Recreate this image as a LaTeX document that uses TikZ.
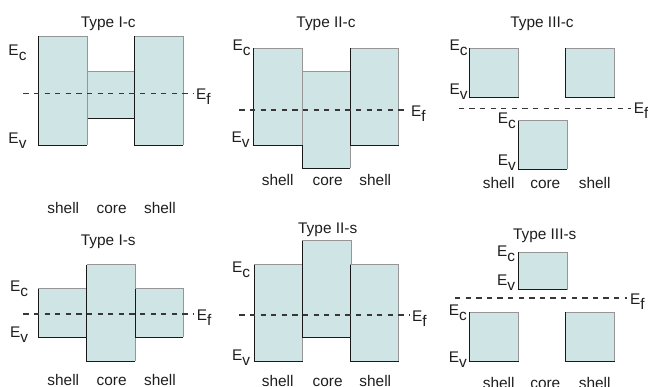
\documentclass[tikz,border=0pt]{standalone}
\usepackage{fontspec}
\setmainfont{Liberation Sans}
\definecolor{bandfill}{RGB}{207,228,229}
\definecolor{edgegray}{RGB}{150,150,150}
\definecolor{edgedark}{RGB}{25,25,25}
\definecolor{fermicol}{RGB}{55,55,55}
\definecolor{txt}{RGB}{30,30,30}
\newcommand{\sbx}[1]{\raisebox{-0.33em}{#1}}
\newcommand{\bandbox}[4]{%
  \fill[bandfill] (#1,#2) rectangle (#3,#4);
  \draw[edgegray, line width=0.8pt] (#1,#2) -- (#3,#2) -- (#3,#4);
  \draw[edgedark, line width=0.8pt] (#1,#2) -- (#1,#4) -- (#3,#4);}
\tikzset{
  lab/.style={inner sep=0pt, text=txt, font=\fontsize{15.4}{18}\selectfont},
  fermi/.style={fermicol, line width=1.4pt, dash pattern=on 5.3pt off 5.3pt, shorten >=3pt}
}
\begin{document}
\begin{tikzpicture}[x=1pt,y=-1pt]
\useasboundingbox (0,0) rectangle (648,386);
% ---------- Panel 1: Type I-c
\bandbox{87.3}{71.7}{134.3}{118.3}
\bandbox{38.3}{36}{87.3}{145}
\bandbox{134.3}{36}{183.3}{145}
\node[lab, anchor=base] (t1) at (108.3,27.3) {Type I-c};
\node[lab, anchor=base west] (c1) at (8.3,55) {E\sbx{c}};
\node[lab, anchor=base west] (v1) at (8.3,143) {E\sbx{v}};
\node[lab, anchor=base west] (f1) at (196,99.3) {E\sbx{f}};
\coordinate (d1) at (23.3,93.5);
\draw[fermi] (d1) -- (d1 -| f1.west);
\node[lab, anchor=base] (s1a) at (63.3,213.3) {shell};
\node[lab, anchor=base] (k1) at (111.7,213.3) {core};
\node[lab, anchor=base] (s1b) at (160,213.3) {shell};
% ---------- Panel 2: Type II-c
\bandbox{302.7}{71.7}{350}{168.3}
\bandbox{253.3}{48.3}{302.7}{145}
\bandbox{350}{48.3}{398.7}{145}
\node[lab, anchor=base] (t2) at (326,27.3) {Type II-c};
\node[lab, anchor=base west] (c2) at (232.3,50.7) {E\sbx{c}};
\node[lab, anchor=base west] (v2) at (231.5,142.7) {E\sbx{v}};
\node[lab, anchor=base west] (f2) at (411,116) {E\sbx{f}};
\coordinate (d2) at (239.3,110);
\draw[fermi] (d2) -- (d2 -| f2.west);
\node[lab, anchor=base] (s2a) at (277.7,185.3) {shell};
\node[lab, anchor=base] (k2) at (327.7,185.3) {core};
\node[lab, anchor=base] (s2b) at (375.3,185.3) {shell};
% ---------- Panel 3: Type III-c
\bandbox{469.3}{48.3}{518.7}{97.7}
\bandbox{565.3}{48.3}{614.7}{97.7}
\bandbox{518.3}{120.7}{567}{169.3}
\node[lab, anchor=base] (t3) at (542,27.3) {Type III-c};
\node[lab, anchor=base west] (c3) at (449.3,50) {E\sbx{c}};
\node[lab, anchor=base west] (v3) at (449.3,94) {E\sbx{v}};
\node[lab, anchor=base west] (c3k) at (497.7,123.3) {E\sbx{c}};
\node[lab, anchor=base west] (v3k) at (497.7,165) {E\sbx{v}};
\node[lab, anchor=base west] (f3) at (633.7,113.3) {E\sbx{f}};
\coordinate (d3) at (458.7,108.7);
\draw[fermi] (d3) -- (d3 -| f3.west);
\node[lab, anchor=base] (s3a) at (498.7,188.3) {shell};
\node[lab, anchor=base] (k3) at (545.3,188.3) {core};
\node[lab, anchor=base] (s3b) at (594.7,188.3) {shell};
% ---------- Panel 4: Type I-s
\bandbox{38.3}{288.7}{86.7}{337.3}
\bandbox{86.7}{264.7}{135}{361.3}
\bandbox{135}{288.7}{183.3}{337.3}
\node[lab, anchor=base] (t4) at (108.3,245.7) {Type I-s};
\node[lab, anchor=base west] (c4) at (10,291.3) {E\sbx{c}};
\node[lab, anchor=base west] (v4) at (10,337.3) {E\sbx{v}};
\node[lab, anchor=base west] (f4) at (196.7,320.7) {E\sbx{f}};
\coordinate (d4) at (23.3,314);
\draw[fermi] (d4) -- (d4 -| f4.west);
\node[lab, anchor=base] (s4a) at (63.3,385) {shell};
\node[lab, anchor=base] (k4) at (111.7,385) {core};
\node[lab, anchor=base] (s4b) at (160,385) {shell};
% ---------- Panel 5: Type II-s
\bandbox{254.3}{264.7}{302.7}{361.3}
\bandbox{302.3}{240.7}{351}{337.3}
\bandbox{350}{264.7}{398.7}{361.3}
\node[lab, anchor=base] (t5) at (327.7,233) {Type II-s};
\node[lab, anchor=base west] (c5) at (232,272.3) {E\sbx{c}};
\node[lab, anchor=base west] (v5) at (232,360.7) {E\sbx{v}};
\node[lab, anchor=base west] (f5) at (412,321) {E\sbx{f}};
\coordinate (d5) at (239.3,315);
\draw[fermi] (d5) -- (d5 -| f5.west);
\node[lab, anchor=base] (s5a) at (277.7,386) {shell};
\node[lab, anchor=base] (k5) at (327.7,386) {core};
\node[lab, anchor=base] (s5b) at (375.3,386) {shell};
% ---------- Panel 6: Type III-s
\bandbox{518.3}{252.3}{567}{289.7}
\bandbox{469.3}{312.3}{518.7}{361.3}
\bandbox{565.3}{312.3}{614.7}{361.3}
\node[lab, anchor=base] (t6) at (544.7,239.7) {Type III-s};
\node[lab, anchor=base west] (c6k) at (497,256.3) {E\sbx{c}};
\node[lab, anchor=base west] (v6k) at (497,285.7) {E\sbx{v}};
\node[lab, anchor=base west] (c6) at (448.7,315.7) {E\sbx{c}};
\node[lab, anchor=base west] (v6) at (448.7,362) {E\sbx{v}};
\node[lab, anchor=base west] (f6) at (630,304) {E\sbx{f}};
\coordinate (d6) at (455,298);
\draw[fermi] (d6) -- (d6 -| f6.west);
\node[lab, anchor=base] (s6a) at (498.7,388.5) {shell};
\node[lab, anchor=base] (k6) at (545.3,388.5) {core};
\node[lab, anchor=base] (s6b) at (594.7,388.5) {shell};
\end{tikzpicture}
\end{document}
